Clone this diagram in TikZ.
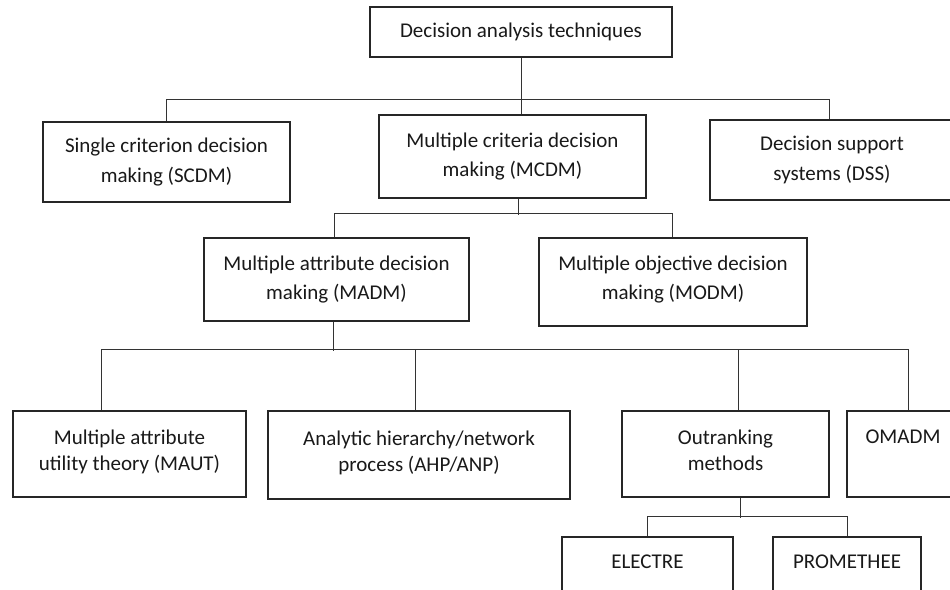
\documentclass[tikz,border=0pt]{standalone}
\usepackage{fontspec}
\setmainfont{Carlito}
\newcommand{\dropfix}[1]{\rule[-#1]{0pt}{#1}}
\begin{document}
\begin{tikzpicture}[x=1pt,y=-1pt,
  box/.style={draw=black!85, line width=1.3pt, rectangle, align=center, inner sep=0pt,
    font=\fontsize{21}{29.5}\selectfont, text=black!90},
  bot/.style={font=\fontsize{21}{26}\selectfont},
  conn/.style={draw=black!80, line width=0.9pt}]
\useasboundingbox (0,0) rectangle (950,589);
\clip (0,0) rectangle (950,589);
\fill[white] (0,0) rectangle (950,589);

\node[box, minimum width=302, minimum height=50] (top) at (521,32) {Decision analysis techniques};
\node[box, minimum width=247, minimum height=80] (scdm) at (166.5,162) {Single criterion decision\\making (SCDM)};
\node[box, minimum width=267, minimum height=83] (mcdm) at (512.5,156.5) {Multiple criteria decision\\making (MCDM)};
\node[box, minimum width=244, minimum height=80] (dss) at (832,160) {Decision support\\systems (DSS)};
\node[box, minimum width=265, minimum height=83] (madm) at (336.5,279.5) {Multiple attribute decision\\making (MADM)};
\node[box, minimum width=268, minimum height=88] (modm) at (673,282) {Multiple objective decision\\making (MODM)\dropfix{9pt}};

\node[box, bot, minimum width=233, minimum height=86] (maut) at (129.5,454) {Multiple attribute\\utility theory (MAUT)\dropfix{8pt}};
\node[box, bot, minimum width=302, minimum height=88] (ahp) at (419,455) {Analytic hierarchy/network\\process (AHP/ANP)\dropfix{8pt}};
\node[box, bot, minimum width=207, minimum height=86] (outr) at (725.5,454) {Outranking\\methods\dropfix{8pt}};
\node[box, bot, minimum width=112, minimum height=86] (omadm) at (903,454) {OMADM\\~\dropfix{8pt}};
\node[box, bot, minimum width=171, minimum height=102] (electre) at (647.5,588) {ELECTRE\\~\\~};
\node[box, bot, minimum width=148, minimum height=102] (prom) at (847,588) {PROMETHEE\\~\\~};

\draw[conn] (top.south) -- (top.south |- mcdm.north);
\draw[conn] (scdm.north) -- ++(0,-22) -| ([xshift=-3pt]dss.north);
\draw[conn] ([xshift=5.5pt]mcdm.south) -- ++(0,16);
\draw[conn] ([xshift=-2.5pt]madm.north) -- ++(0,-24) -| ([xshift=-1pt]modm.north);
\draw[conn] ([xshift=-3.5pt]madm.south) -- ++(0,29);
\draw[conn] ([xshift=-28.5pt]maut.north) -- ++(0,-61) -| ([xshift=5pt]omadm.north);
\draw[conn] ([xshift=-4pt]ahp.north) -- ++(0,-61);
\draw[conn] ([xshift=12.5pt]outr.north) -- ++(0,-61);
\draw[conn] ([xshift=15pt]outr.south) -- ++(0,20);
\draw[conn] (electre.north) -- ++(0,-20) -| (prom.north);
\end{tikzpicture}
\end{document}
